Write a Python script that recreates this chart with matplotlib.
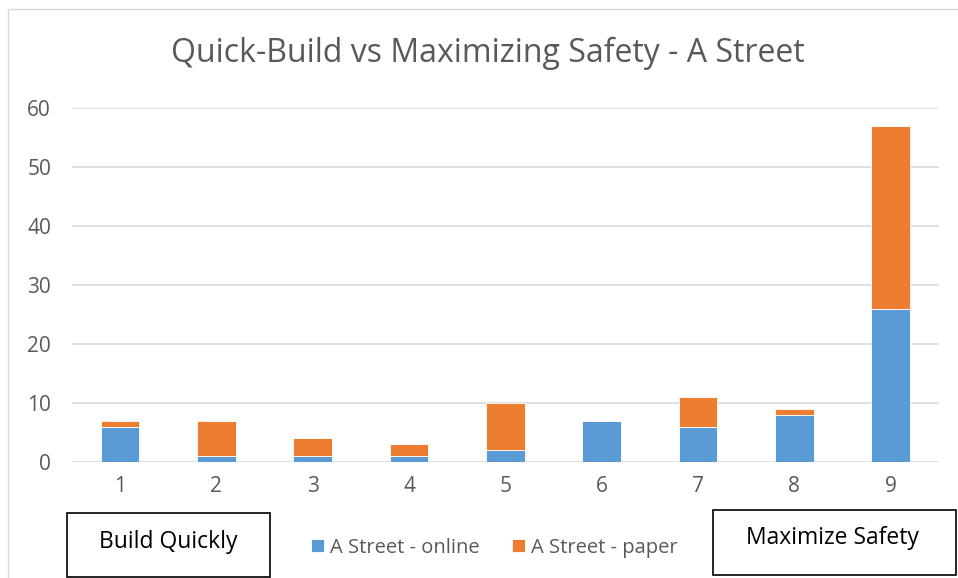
import matplotlib.pyplot as plt
import numpy as np
from matplotlib.patches import Rectangle

categories = ['1', '2', '3', '4', '5', '6', '7', '8', '9']
online = [6, 1, 1, 1, 2, 7, 6, 8, 26]
paper = [1, 6, 3, 2, 8, 0, 5, 1, 31]

blue = '#5b9bd5'
orange = '#ed7d31'
grey = '#595959'

plt.rcParams['font.family'] = ['Open Sans', 'DejaVu Sans']

fig = plt.figure(figsize=(9.58, 5.78), dpi=100)
ax = fig.add_axes([0.075, 0.2007, 0.905, 0.6125])

x = np.arange(1, len(categories) + 1)
ax.bar(x, online, width=0.4, color=blue, edgecolor='white', linewidth=0.6,
       label='A Street - online', zorder=3)
ax.bar(x, paper, width=0.4, bottom=online, color=orange, edgecolor='white',
       linewidth=0.6, label='A Street - paper', zorder=3)

ax.set_xlim(0.5, 9.5)
ax.set_ylim(0, 60)
ax.set_yticks(range(0, 61, 10))
ax.set_xticks(x)
ax.set_xticklabels(categories)
ax.grid(axis='y', color='#d9d9d9', linewidth=1.2, zorder=0)
for s in ax.spines.values():
    s.set_visible(False)
ax.tick_params(length=0, labelsize=15, labelcolor=grey)
ax.tick_params(axis='x', pad=10)
ax.tick_params(axis='y', pad=15)

fig.text(0.509, 1 - 53 / 578, 'Quick-Build vs Maximizing Safety - A Street',
         ha='center', va='center', fontsize=23, color=grey)

ax.legend(loc='center', bbox_to_anchor=(0.487, -0.242),
          ncol=2, frameon=False, fontsize=14.5, labelcolor=grey,
          handlelength=0.65, handleheight=0.65, handletextpad=0.3,
          columnspacing=1.6)

# outer chart border
fig.add_artist(Rectangle((8 / 958, -0.01), 1.0, 0.995, transform=fig.transFigure,
                         fill=False, edgecolor='#d9d9d9', linewidth=1))

# annotation boxes
fig.add_artist(Rectangle((67 / 958, 1 / 578), 203 / 958, 64 / 578,
                         transform=fig.transFigure, fill=True, facecolor='white',
                         edgecolor='black', linewidth=1.2))
fig.text(168 / 958, 1 - 542 / 578, 'Build Quickly', ha='center', va='center',
         fontsize=16.5, color='black')
fig.add_artist(Rectangle((713 / 958, 3 / 578), 243 / 958, 65 / 578,
                         transform=fig.transFigure, fill=True, facecolor='white',
                         edgecolor='black', linewidth=1.2))
fig.text(832 / 958, 1 - 538 / 578, 'Maximize Safety', ha='center', va='center',
         fontsize=16.5, color='black')

fig.savefig('out.png', dpi=100)
